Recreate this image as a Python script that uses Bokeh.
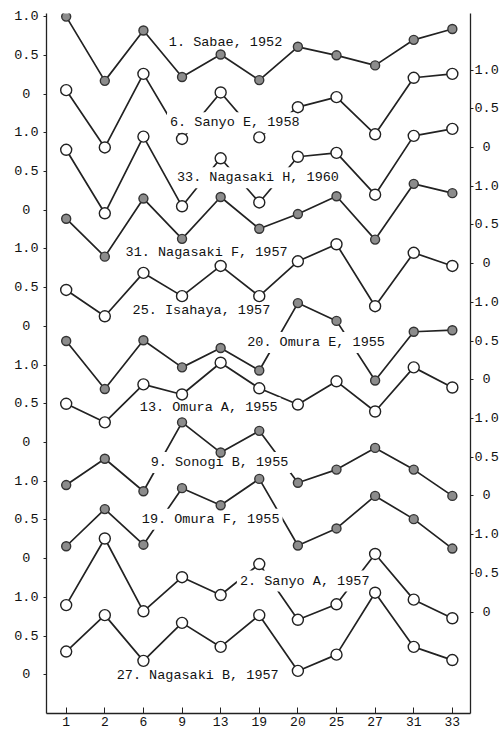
from bokeh.plotting import figure
from bokeh.models import LinearAxis, FixedTicker, Range1d, ColumnDataSource
from bokeh.core.properties import value
from bokeh.embed import file_html
from bokeh.resources import INLINE

# ---- data ----
x_labels = ["1", "2", "6", "9", "13", "19", "20", "25", "27", "31", "33"]

sabae_1952      = [1.00, 0.17, 0.82, 0.22, 0.51, 0.18, 0.61, 0.50, 0.37, 0.70, 0.84]
sanyo_e_1958    = [0.74, 0.00, 0.95, 0.11, 0.71, 0.13, 0.52, 0.65, 0.17, 0.90, 0.95]
nagasaki_h_1960 = [0.78, -0.04, 0.95, 0.05, 0.67, 0.10, 0.69, 0.74, 0.20, 0.96, 1.05]
nagasaki_f_1957 = [0.58, 0.09, 0.84, 0.32, 0.86, 0.45, 0.64, 0.87, 0.31, 1.03, 0.91]
isahaya_1957    = [0.47, 0.13, 0.69, 0.39, 0.78, 0.39, 0.84, 1.06, 0.26, 0.95, 0.78]
omura_e_1955    = [0.50, -0.12, 0.51, 0.16, 0.41, 0.12, 0.99, 0.76, -0.01, 0.62, 0.64]
omura_a_1955    = [0.50, 0.26, 0.75, 0.62, 1.03, 0.70, 0.49, 0.79, 0.40, 0.97, 0.71]
sonogi_b_1955   = [0.14, 0.48, 0.06, 0.95, 0.56, 0.84, 0.17, 0.34, 0.62, 0.34, 0.00]
omura_f_1955    = [0.16, 0.64, 0.18, 0.91, 0.69, 1.03, 0.17, 0.39, 0.81, 0.51, 0.13]
sanyo_a_1957    = [0.09, 0.95, 0.01, 0.45, 0.22, 0.62, -0.10, 0.10, 0.75, 0.16, -0.08]
nagasaki_b_1957 = [0.30, 0.77, 0.18, 0.67, 0.36, 0.77, 0.05, 0.26, 1.06, 0.36, 0.19]

series_names = ["1. Sabae, 1952", "6. Sanyo E, 1958", "33. Nagasaki H, 1960",
                "31. Nagasaki F, 1957", "25. Isahaya, 1957", "20. Omura E, 1955",
                "13. Omura A, 1955", "9. Sonogi B, 1955", "19. Omura F, 1955",
                "2. Sanyo A, 1957", "27. Nagasaki B, 1957"]
series_values = [sabae_1952, sanyo_e_1958, nagasaki_h_1960, nagasaki_f_1957,
                 isahaya_1957, omura_e_1955, omura_a_1955, sonogi_b_1955,
                 omura_f_1955, sanyo_a_1957, nagasaki_b_1957]
series_filled = [True, False, False, True, False, True, False, True, True, False, False]

# ---- layout (stacking of panels; left scale groups / right scale groups) ----
STEP = 1.5          # vertical spacing between panels sharing one axis
RIGHT_SHIFT = 0.69  # right-hand axis groups are shifted down by this much
# series i -> (side, group index)
placement = [("L", 0), ("R", 0), ("L", 1), ("R", 1), ("L", 2), ("R", 2),
             ("L", 3), ("R", 3), ("L", 4), ("R", 4), ("L", 5)]
# label anchors (x in category index, y in plot units)
label_pos = [(2.58, 0.66), (2.61, -0.37), (2.79, -1.08), (1.46, -2.05),
             (1.64, -2.79), (4.61, -3.21), (1.83, -4.05), (2.11, -4.76),
             (1.88, -5.49), (4.42, -6.29), (1.23, -7.51)]


def base(side, g):
    return -STEP * g - (RIGHT_SHIFT if side == "R" else 0.0)


FONT = "Liberation Mono"
INK = "#222222"

p = figure(width=501, height=731, output_backend="svg", toolbar_location=None,
           x_range=Range1d(-0.51, 10.47), y_range=Range1d(-8.0, 1.04),
           min_border_left=46, min_border_right=31, min_border_top=13,
           min_border_bottom=18, x_axis_location="below", y_axis_location="left")
p.outline_line_color = None
p.xgrid.visible = False
p.ygrid.visible = False
p.background_fill_color = "white"
p.border_fill_color = "white"

xs = list(range(len(x_labels)))

# lines
sources = []
for vals, (side, g) in zip(series_values, placement):
    b = base(side, g)
    src = ColumnDataSource(dict(x=xs, y=[b + v for v in vals]))
    sources.append(src)
    p.line("x", "y", source=src, line_color=INK, line_width=1.7)

# labels with white background (break the lines as in the original)
lab_src = ColumnDataSource(dict(x=[a for a, _ in label_pos], y=[b for _, b in label_pos],
                                t=series_names))
p.text("x", "y", text="t", source=lab_src, text_font=value(FONT),
       text_font_size="13.5px", text_color="#111111", text_baseline="middle",
       text_align="left", background_fill_color="white", padding=3)

# markers
for src, filled in zip(sources, series_filled):
    if filled:
        p.scatter("x", "y", source=src, size=9, fill_color="#8c8c8c",
                  line_color="#333333", line_width=1.4)
    else:
        p.scatter("x", "y", source=src, size=11, fill_color="white",
                  line_color=INK, line_width=1.4)

# ---- axes ----
def ticks_for(side, n):
    t, ov = [], {}
    for g in range(n):
        b = base(side, g)
        for v, s in ((1.0, "1.0"), (0.5, "0.5"), (0.0, "\u00a00\u00a0")):
            y = round(b + v, 3)
            t.append(y)
            ov[y] = s
    return t, ov

lt, lov = ticks_for("L", 6)
ya = p.yaxis[0]
ya.ticker = FixedTicker(ticks=lt)
ya.major_label_overrides = lov
rt, rov = ticks_for("R", 5)
ra = LinearAxis(ticker=FixedTicker(ticks=rt), major_label_overrides=rov)
p.add_layout(ra, "right")

for ax in (ya, ra):
    ax.axis_line_color = INK
    ax.axis_line_width = 1.3
    ax.major_tick_line_color = INK
    ax.major_tick_in = 0
    ax.major_tick_out = 3
    ax.minor_tick_line_color = None
    ax.major_label_text_font = FONT
    ax.major_label_text_font_size = "13.5px"
    ax.major_label_text_color = "#111111"
ya.major_label_standoff = 5
ra.major_label_standoff = 1

xa = p.xaxis[0]
xa.ticker = FixedTicker(ticks=xs)
xa.major_label_overrides = {i: s for i, s in enumerate(x_labels)}
xa.axis_line_color = INK
xa.axis_line_width = 1.3
xa.major_tick_line_color = INK
xa.major_tick_in = 6
xa.major_tick_out = 0
xa.minor_tick_line_color = None
xa.major_label_text_font = FONT
xa.major_label_text_font_size = "13px"
xa.major_label_text_color = "#111111"
xa.major_label_standoff = 3

open("out.html", "w").write(file_html(p, INLINE))
